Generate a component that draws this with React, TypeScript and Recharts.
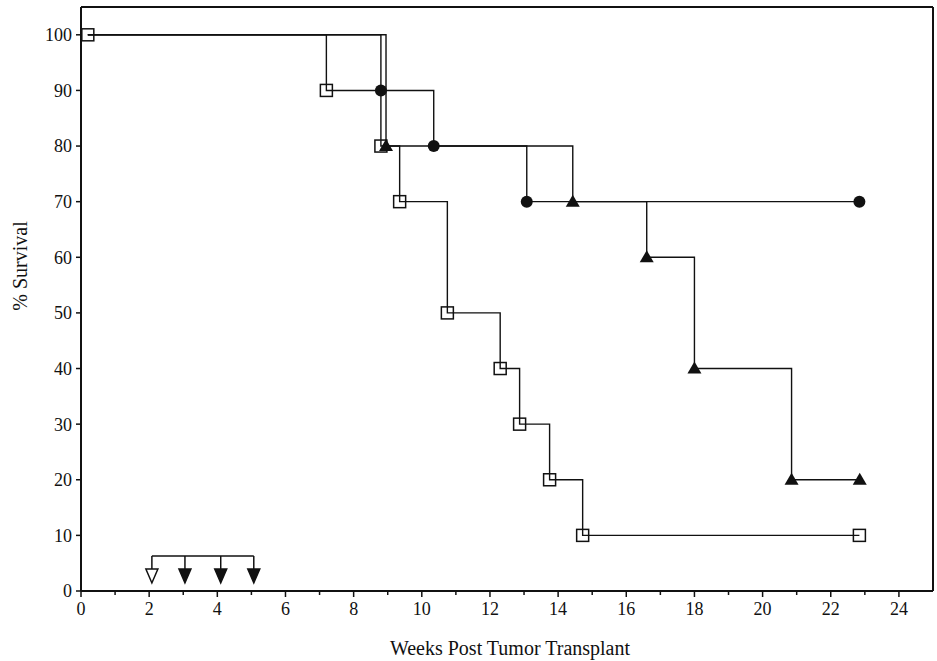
import {
  ComposedChart,
  Line,
  Scatter,
  XAxis,
  YAxis,
  ReferenceLine,
  Label,
} from 'recharts';

// open squares
const squareWeeks = [0.2, 7.2, 8.8, 9.35, 10.75, 12.3, 12.87, 13.75, 14.72, 22.84];
const squareSurvival = [100, 90, 80, 70, 50, 40, 30, 20, 10, 10];

// filled circles
const circleWeeks = [0.2, 8.8, 10.35, 13.08, 22.84];
const circleSurvival = [100, 90, 80, 70, 70];

// filled triangles
const triangleWeeks = [0.2, 8.95, 14.43, 16.6, 18.0, 20.85, 22.85];
const triangleSurvival = [100, 80, 70, 60, 40, 20, 20];

// treatment arrows (first one open)
const arrowWeeks = [2.08, 3.05, 4.1, 5.07];
const arrowOpen = [true, false, false, false];
const arrowLevel = 6.3;

const xTicks = [0, 1, 2, 3, 4, 5, 6, 7, 8, 9, 10, 11, 12, 13, 14, 15, 16, 17, 18, 19, 20, 21, 22, 23, 24];
const yTicks = [0, 10, 20, 30, 40, 50, 60, 70, 80, 90, 100];

const FONT = '"Liberation Serif", "Times New Roman", serif';
const INK = '#111';

const toPoints = (xs: number[], ys: number[]) => xs.map((x, i) => ({ x, y: ys[i] }));

const squareData = toPoints(squareWeeks, squareSurvival);
const circleData = toPoints(circleWeeks, circleSurvival);
const triangleData = toPoints(triangleWeeks, triangleSurvival);
const arrowData = arrowWeeks.map((x, i) => ({ x, y: arrowLevel, open: arrowOpen[i] }));
const bracketData = [
  { x: arrowWeeks[0], y: arrowLevel },
  { x: arrowWeeks[arrowWeeks.length - 1], y: arrowLevel },
];

function SquareDot(props: any) {
  const { cx, cy, index } = props;
  return (
    <rect
      key={`sq-${index}`}
      x={cx - 6}
      y={cy - 6}
      width={12}
      height={12}
      fill="none"
      stroke={INK}
      strokeWidth={1.5}
    />
  );
}

function CircleDot(props: any) {
  const { cx, cy, index } = props;
  if (index === 0) return <g key={`ci-${index}`} />;
  return <circle key={`ci-${index}`} cx={cx} cy={cy} r={6} fill={INK} />;
}

function TriangleDot(props: any) {
  const { cx, cy, index } = props;
  if (index === 0) return <g key={`tr-${index}`} />;
  return (
    <polygon
      key={`tr-${index}`}
      points={`${cx},${cy - 7} ${cx + 7},${cy + 5} ${cx - 7},${cy + 5}`}
      fill={INK}
    />
  );
}

function ArrowShape(props: any) {
  const { cx, cy, payload } = props;
  const top = cy + 13;
  return (
    <g>
      <line x1={cx} y1={cy} x2={cx} y2={top} stroke={INK} strokeWidth={1.5} />
      <polygon
        points={`${cx - 6},${top} ${cx + 6},${top} ${cx},${top + 14}`}
        fill={payload.open ? '#fff' : INK}
        stroke={INK}
        strokeWidth={1.5}
      />
    </g>
  );
}

function XTick(props: any) {
  const { x, y, payload } = props;
  const major = payload.value % 2 === 0;
  return (
    <g>
      <line x1={x} y1={y - 6} x2={x} y2={y - 6 + (major ? 6 : 4)} stroke={INK} strokeWidth={1.5} />
      {major && (
        <text x={x} y={y + 18} textAnchor="middle" fontFamily={FONT} fontSize={18} fill={INK}>
          {payload.value}
        </text>
      )}
    </g>
  );
}

export default function App() {
  return (
    <div style={{ position: 'absolute', left: 0, top: 0, background: '#fff' }}>
      <ComposedChart width={937} height={661} margin={{ top: 7, right: 4, left: 0, bottom: 0 }}>
        <XAxis
          type="number"
          dataKey="x"
          domain={[0, 25]}
          ticks={xTicks}
          interval={0}
          height={70}
          axisLine={{ stroke: INK, strokeWidth: 2 }}
          tickLine={false}
          tick={<XTick />}
          tickMargin={0}
        >
          <Label
            content={({ viewBox }: any) => (
              <text
                x={viewBox.x + viewBox.width / 2 + 3}
                y={viewBox.y + 64}
                textAnchor="middle"
                fontFamily={FONT}
                fontSize={20}
                fill={INK}
              >
                Weeks Post Tumor Transplant
              </text>
            )}
          />
        </XAxis>
        <YAxis
          type="number"
          dataKey="y"
          domain={[0, 105]}
          ticks={yTicks}
          interval={0}
          width={81}
          axisLine={{ stroke: INK, strokeWidth: 2 }}
          tickLine={{ stroke: INK, strokeWidth: 1.5 }}
          tickSize={5}
          tick={{ fontFamily: FONT, fontSize: 18, fill: INK }}
          tickMargin={4}
        >
          <Label
            content={({ viewBox }: any) => {
              const cx = viewBox.x + 27;
              const cy = viewBox.y + viewBox.height / 2 - 33;
              return (
                <text
                  x={cx}
                  y={cy}
                  transform={`rotate(-90, ${cx}, ${cy})`}
                  textAnchor="middle"
                  fontFamily={FONT}
                  fontSize={20}
                  fill={INK}
                >
                  % Survival
                </text>
              );
            }}
          />
        </YAxis>
        <ReferenceLine y={105} stroke={INK} strokeWidth={2} />
        <ReferenceLine x={25} stroke={INK} strokeWidth={2} />

        <Line
          data={bracketData}
          dataKey="y"
          type="linear"
          stroke={INK}
          strokeWidth={1.5}
          dot={false}
          isAnimationActive={false}
        />
        <Scatter
          data={arrowData}
          dataKey="y"
          shape={<ArrowShape />}
          isAnimationActive={false}
        />
        <Line
          data={triangleData}
          dataKey="y"
          type="stepAfter"
          stroke={INK}
          strokeWidth={1.4}
          dot={TriangleDot}
          activeDot={false}
          isAnimationActive={false}
        />
        <Line
          data={circleData}
          dataKey="y"
          type="stepAfter"
          stroke={INK}
          strokeWidth={1.4}
          dot={CircleDot}
          activeDot={false}
          isAnimationActive={false}
        />
        <Line
          data={squareData}
          dataKey="y"
          type="stepAfter"
          stroke={INK}
          strokeWidth={1.4}
          dot={SquareDot}
          activeDot={false}
          isAnimationActive={false}
        />
      </ComposedChart>
    </div>
  );
}
